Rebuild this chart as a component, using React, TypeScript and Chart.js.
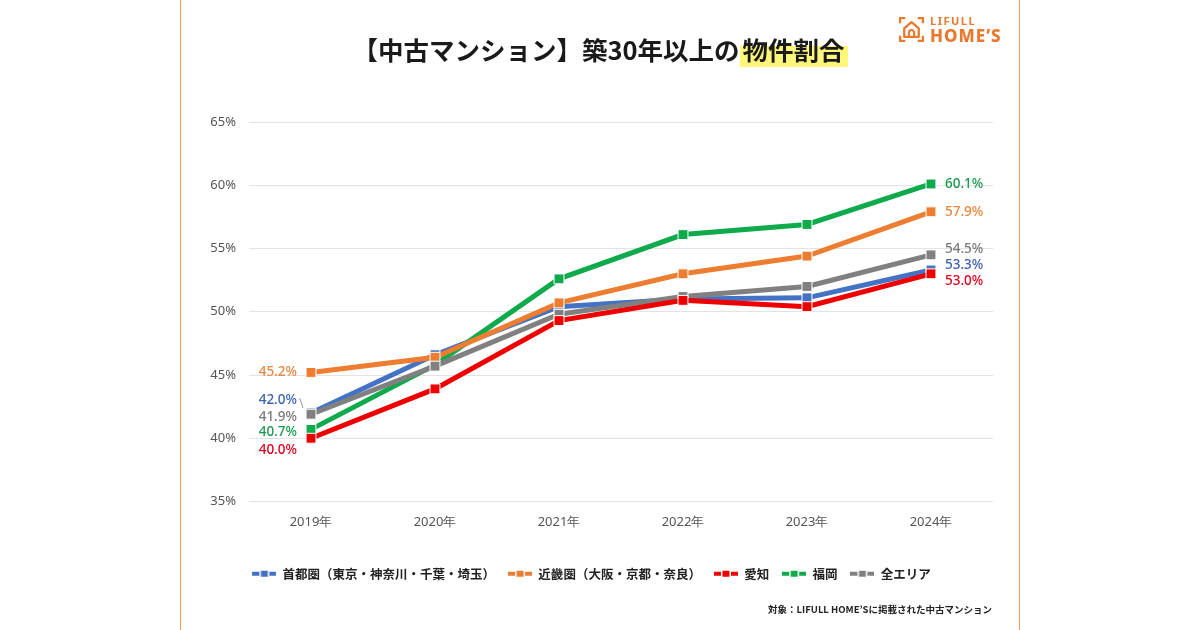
import React, { useEffect, useRef } from "react";
import { Chart, registerables } from "chart.js";

Chart.register(...registerables);

const categories = ["2019年", "2020年", "2021年", "2022年", "2023年", "2024年"];
const seriesNames = [
  "首都圏（東京・神奈川・千葉・埼玉）",
  "近畿圏（大阪・京都・奈良）",
  "愛知",
  "福岡",
  "全エリア",
];
const shutoken = [42.0, 46.6, 50.4, 51.0, 51.1, 53.3];
const kinki = [45.2, 46.4, 50.7, 53.0, 54.4, 57.9];
const aichi = [40.0, 43.9, 49.3, 50.9, 50.4, 53.0];
const fukuoka = [40.7, 45.8, 52.6, 56.1, 56.9, 60.1];
const zenArea = [41.9, 45.7, 49.8, 51.2, 52.0, 54.5];
const yTicks = [35, 40, 45, 50, 55, 60, 65];

const lineColors = ["#4472C4", "#ED7D31", "#EE0000", "#0FAA4B", "#808080"];
const labelColors = ["#3C62B0", "#E8873E", "#E2001A", "#1A9A4C", "#7A7A7A"];
// drawing order: lower draws on top
const drawOrder = [4, 2, 0, 3, 1];
// label offsets (first point / last point), [dx, dy]
const firstOffsets = [[-14, -13], [-14, 0], [-14, 12], [-14, 3], [-14, 3]];
const lastOffsets = [[14, -5], [14, 0], [14, 7], [14, 0], [14, -6]];

function makeSwatch(color: string): HTMLCanvasElement {
  const c = document.createElement("canvas");
  c.width = 24;
  c.height = 8;
  const ctx = c.getContext("2d")!;
  ctx.fillStyle = color;
  ctx.fillRect(0, 2, 7, 4);
  ctx.fillRect(8.5, 1, 7, 6);
  ctx.fillRect(17, 2, 7, 4);
  return c;
}

const labelPlugin = {
  id: "endLabels",
  afterDatasetsDraw(chart: any) {
    const ctx = chart.ctx;
    ctx.save();
    ctx.font = "500 13.5px 'Noto Sans', sans-serif";
    ctx.textBaseline = "middle";
    chart.data.datasets.forEach((ds: any, i: number) => {
      const meta = chart.getDatasetMeta(i);
      const pts = meta.data;
      const first = pts[0];
      const last = pts[pts.length - 1];
      ctx.fillStyle = labelColors[i];
      ctx.textAlign = "right";
      ctx.fillText(
        ds.data[0].toFixed(1) + "%",
        first.x + firstOffsets[i][0],
        first.y + firstOffsets[i][1]
      );
      ctx.textAlign = "left";
      ctx.fillText(
        ds.data[ds.data.length - 1].toFixed(1) + "%",
        last.x + lastOffsets[i][0],
        last.y + lastOffsets[i][1]
      );
      if (i === 0) {
        ctx.strokeStyle = "#9a9a9a";
        ctx.lineWidth = 1;
        ctx.beginPath();
        ctx.moveTo(first.x + firstOffsets[i][0] + 2, first.y + firstOffsets[i][1] - 1);
        ctx.lineTo(first.x - 11, first.y + firstOffsets[i][1] - 1);
        ctx.lineTo(first.x - 8, first.y - 5);
        ctx.stroke();
      }
    });
    ctx.restore();
  },
};

export default function App() {
  const ref = useRef<HTMLCanvasElement>(null);

  useEffect(() => {
    document.body.style.margin = "0";
    const series = [shutoken, kinki, aichi, fukuoka, zenArea];
    const swatches = lineColors.map(makeSwatch);
    const chart = new Chart(ref.current!, {
      type: "line",
      data: {
        labels: categories,
        datasets: series.map((d, i) => ({
          label: seriesNames[i],
          data: d,
          borderColor: lineColors[i],
          backgroundColor: lineColors[i],
          borderWidth: 5,
          pointStyle: "rect",
          pointRadius: 7,
          pointBorderWidth: 1,
          pointBorderColor: "#ffffff",
          pointBackgroundColor: lineColors[i],
          tension: 0,
          order: drawOrder[i],
        })),
      },
      options: {
        responsive: false,
        animation: false,
        layout: { padding: { left: 190, right: 207, top: 122, bottom: 40 } },
        scales: {
          x: {
            offset: true,
            grid: { display: false, drawTicks: false },
            border: { display: false },
            ticks: {
              padding: 13,
              color: "#555555",
              font: { family: "'Noto Sans', sans-serif", size: 13 },
            },
            afterFit: (s: any) => {
              s.height = 53;
            },
          },
          y: {
            min: 35,
            max: 65,
            afterBuildTicks: (s: any) => {
              s.ticks = yTicks.map((v) => ({ value: v }));
            },
            grid: { color: "#e3e3e3", drawTicks: false, lineWidth: 1 },
            border: { display: false },
            ticks: {
              padding: 13,
              color: "#555555",
              font: { family: "'Noto Sans', sans-serif", size: 13 },
              callback: (v: any) => v + "%",
            },
            afterFit: (s: any) => {
              s.width = 59;
            },
          },
        },
        plugins: {
          legend: {
            position: "bottom",
            labels: {
              usePointStyle: true,
              pointStyleWidth: 24,
              padding: 13,
              color: "#222222",
              font: { family: "'Noto Sans CJK JP', sans-serif", size: 12.5, weight: "bold" },
              sort: (a: any, b: any) => a.datasetIndex - b.datasetIndex,
              generateLabels: (chart: any) =>
                chart.data.datasets.map((ds: any, i: number) => ({
                  text: ds.label,
                  datasetIndex: i,
                  pointStyle: swatches[i],
                  fillStyle: lineColors[i],
                  strokeStyle: lineColors[i],
                  lineWidth: 0,
                  hidden: false,
                  fontColor: "#222222",
                })),
            },
          },
          tooltip: { enabled: false },
        },
      },
      plugins: [labelPlugin],
    });
    return () => chart.destroy();
  }, []);

  return (
    <div style={{ position: "fixed", left: 0, top: 0, width: 1200, height: 630, background: "#fff", overflow: "hidden" }}>
      <div
        style={{
          position: "absolute",
          left: 180,
          top: -2,
          width: 838,
          height: 632,
          border: "1.5px solid #EE9A5E",
        }}
      />
      <canvas ref={ref} width={1200} height={630} style={{ position: "absolute", left: 0, top: 0, display: "block" }} />
      <div
        style={{
          position: "absolute",
          left: 0,
          width: 1200,
          top: 31,
          textAlign: "center",
          fontFamily: "'Noto Sans CJK JP', sans-serif",
          fontWeight: 700,
          fontSize: 25.5,
          color: "#1a1a1a",
          lineHeight: "36px",
        }}
      >
        【中古マンション】築30年以上の
        <span style={{ background: "linear-gradient(transparent 42%, #FFF67A 42%)", padding: "0 3px" }}>物件割合</span>
      </div>
      <div style={{ position: "absolute", left: 898, top: 15, display: "flex", alignItems: "center", color: "#E8792F" }}>
        <svg width="27" height="27" viewBox="0 0 26 26">
          <path d="M2 7 V2 H7 M19 2 H24 V7 M2 19 V24 H7 M19 24 H24 V19" fill="none" stroke="#E8792F" strokeWidth="2.2" />
          <path d="M6 20 V12 L13 6 L20 12 V20 Z" fill="none" stroke="#E8792F" strokeWidth="2.2" strokeLinejoin="round" />
          <path d="M10.5 20 V16 A2.5 2.5 0 0 1 15.5 16 V20" fill="none" stroke="#E8792F" strokeWidth="2" />
        </svg>
        <div style={{ marginLeft: 5, fontFamily: "'Noto Sans', sans-serif", lineHeight: 1 }}>
          <div style={{ fontSize: 11, fontWeight: 700, letterSpacing: 1.5 }}>LIFULL</div>
          <div style={{ fontSize: 17, fontWeight: 800, letterSpacing: 1, marginTop: 1 }}>HOME&#8217;S</div>
        </div>
      </div>
      <div
        style={{
          position: "absolute",
          right: 208,
          top: 602,
          fontFamily: "'Noto Sans CJK JP', sans-serif",
          fontWeight: 700,
          fontSize: 9.5,
          color: "#222",
        }}
      >
        対象：LIFULL HOME&#8217;Sに掲載された中古マンション
      </div>
    </div>
  );
}
